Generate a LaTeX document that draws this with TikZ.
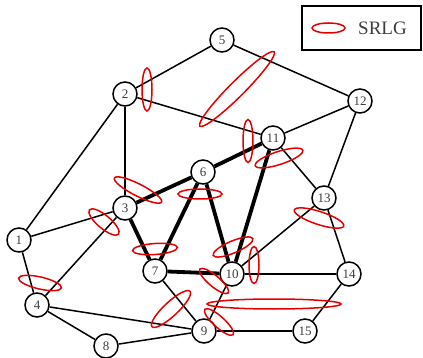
\documentclass[tikz,border=0pt]{standalone}
\usepackage{fontspec}
\setmainfont{Liberation Serif}
\usetikzlibrary{shapes.geometric}
\definecolor{srlgred}{RGB}{228,0,0}
\definecolor{labelgray}{RGB}{60,60,60}
\begin{document}
\begin{tikzpicture}[x=1pt,y=-1pt,
  vtx/.style={circle,draw,line width=1.5pt,fill=white,minimum size=24pt,inner sep=0pt,
    text=labelgray,font=\fontsize{13}{13}\selectfont},
  link/.style={line width=1.5pt},
  hot/.style={line width=3.8pt},
  srlg/.style={ellipse,draw=srlgred,line width=1.5pt,inner sep=0pt},
  sz/.style 2 args={minimum width=#1pt,minimum height=#2pt}]
\useasboundingbox (0,0) rectangle (423,358);

% legend
\node[draw,line width=1.3pt,minimum width=119pt,minimum height=44pt,inner sep=0pt] (legend) at (361.5,28) {};
\node[srlg,sz={33}{10}] (legsym) at (328.5,28) {};
\node[font=\fontsize{19}{19}\selectfont,text=labelgray,anchor=west,inner sep=0pt] (legtext) at (358,28.5) {SRLG};

% vertices
\node[vtx] (n1)  at (19,240)  {1};
\node[vtx] (n2)  at (125,94)  {2};
\node[vtx] (n3)  at (125,208) {3};
\node[vtx] (n4)  at (37,305)  {4};
\node[vtx] (n5)  at (222,40)  {5};
\node[vtx] (n6)  at (203,172) {6};
\node[vtx] (n7)  at (155,271) {7};
\node[vtx] (n8)  at (106,346) {8};
\node[vtx] (n9)  at (204,331) {9};
\node[vtx] (n10) at (232,274) {10};
\node[vtx] (n11) at (273,138) {11};
\node[vtx] (n12) at (360,101) {12};
\node[vtx] (n13) at (324,198) {13};
\node[vtx] (n14) at (349,274) {14};
\node[vtx] (n15) at (305,331) {15};

% links
\draw[link] (n2) -- (n5);
\draw[link] (n2) -- (n11);
\draw[link] (n2) -- (n3);
\draw[link] (n2) -- (n1);
\draw[link] (n5) -- (n12);
\draw[link] (n12) -- (n11);
\draw[link] (n12) -- (n13);
\draw[link] (n11) -- (n13);
\draw[link] (n3) -- (n1);
\draw[link] (n3) -- (n4);
\draw[link] (n1) -- (n4);
\draw[link] (n7) -- (n9);
\draw[link] (n4) -- (n9);
\draw[link] (n4) -- (n8);
\draw[link] (n8) -- (n9);
\draw[link] (n9) -- (n10);
\draw[link] (n9) -- (n15);
\draw[link] (n10) -- (n14);
\draw[link] (n10) -- (n13);
\draw[link] (n13) -- (n14);
\draw[link] (n14) -- (n15);
\draw[hot] (n3) -- (n6);
\draw[hot] (n6) -- (n11);
\draw[hot] (n6) -- (n7);
\draw[hot] (n6) -- (n10);
\draw[hot] (n3) -- (n7);
\draw[hot] (n7) -- (n10);
\draw[hot] (n11) -- (n10);

% SRLG ellipses
\node[srlg,sz={10}{43}] (e1) at (147,89.5) {};
\node[srlg,sz={105}{15},rotate=45] (e2) at (237,89) {};
\node[srlg,sz={10}{43}] (e3) at (248,141) {};
\node[srlg,sz={50}{13},rotate=18] (e4) at (279,158) {};
\node[srlg,sz={53}{12},rotate=-27] (e5) at (138,190) {};
\node[srlg,sz={44}{10}] (e6) at (200,194) {};
\node[srlg,sz={38}{13},rotate=-40] (e7) at (104,222) {};
\node[srlg,sz={44}{12},rotate=-13] (e8) at (40,283) {};
\node[srlg,sz={45}{11},rotate=4] (e9) at (155,249) {};
\node[srlg,sz={52}{14},rotate=43] (e10) at (171,309) {};
\node[srlg,sz={43}{12},rotate=23] (e11) at (233,247) {};
\node[srlg,sz={10}{37}] (e12) at (254,265) {};
\node[srlg,sz={52}{13},rotate=-18] (e13) at (319,218) {};
\node[srlg,sz={37}{11},rotate=-40] (e14) at (214,281) {};
\node[srlg,sz={134}{10}] (e15) at (274,304) {};
\node[srlg,sz={38}{11},rotate=-42] (e16) at (219,322) {};
\end{tikzpicture}
\end{document}
